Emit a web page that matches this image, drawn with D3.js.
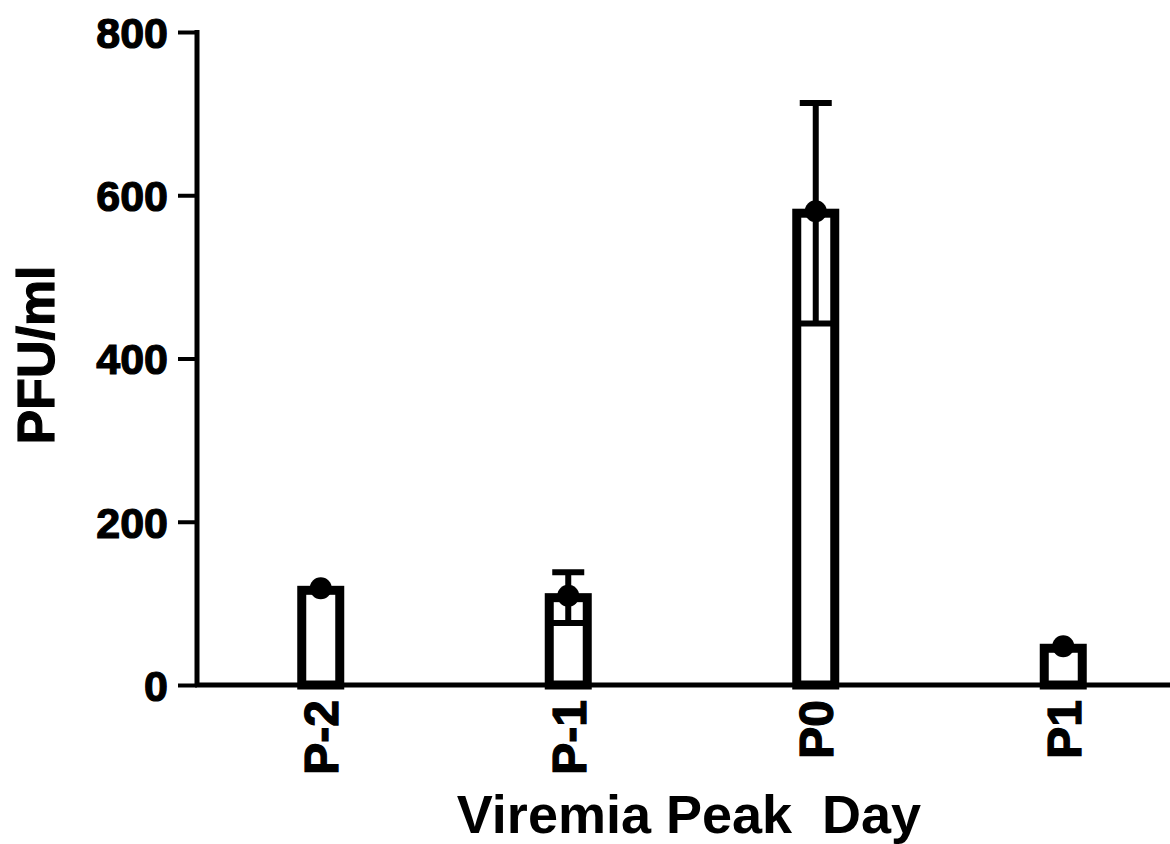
<!DOCTYPE html>
<script src="https://d3js.org/d3.v7.min.js"></script>
<style>
body { margin: 0; background: white; }
text { font-family: "Liberation Sans", Arial, sans-serif; font-weight: bold; fill: black; }
.heavy { stroke: black; stroke-width: 1.2px; }
</style>
<html><body>
<svg class="chart"></svg>
<script>
var width = 1170;
var height = 844;

var days = ["P-2", "P-1", "P0", "P1"];
var means = [116, 107, 578, 45];
var sems = [0, 31, 135, 0];
var yTicks = [0, 200, 400, 600, 800];

var x = d3.scaleBand()
    .domain(days)
    .range([197, 1187]);

var y = d3.scaleLinear()
    .domain([0, 800])
    .range([685, 32]);

var chart = d3.select(".chart")
    .attr("width", width)
    .attr("height", height);

var barW = 38;
function cx(d) { return x(d) + x.bandwidth() / 2; }
function hi(d) { var i = days.indexOf(d); return y(means[i] + sems[i]); }
function lo(d) { var i = days.indexOf(d); return y(means[i] - sems[i]); }

// error bars
var err = chart.append("g").selectAll("g")
    .data(days)
    .enter().append("g")
    .filter(function(d, i) { return sems[i] > 0; });

err.append("line")
    .attr("x1", cx).attr("x2", cx)
    .attr("y1", hi).attr("y2", lo)
    .attr("stroke", "black").attr("stroke-width", 6);

err.append("line")
    .attr("x1", function(d) { return cx(d) - 16; })
    .attr("x2", function(d) { return cx(d) + 16; })
    .attr("y1", hi).attr("y2", hi)
    .attr("stroke", "black").attr("stroke-width", 6);

err.append("line")
    .attr("x1", function(d) { return cx(d) - barW / 2; })
    .attr("x2", function(d) { return cx(d) + barW / 2; })
    .attr("y1", lo).attr("y2", lo)
    .attr("stroke", "black").attr("stroke-width", 6);

// bars
chart.append("g").selectAll("rect")
    .data(days)
    .enter().append("rect")
    .attr("x", function(d) { return cx(d) - barW / 2; })
    .attr("width", barW)
    .attr("y", function(d, i) { return y(means[i]); })
    .attr("height", function(d, i) { return y(0) - y(means[i]); })
    .attr("fill", "none")
    .attr("stroke", "black")
    .attr("stroke-width", 9);

// mean dots
chart.append("g").selectAll("circle")
    .data(days)
    .enter().append("circle")
    .attr("cx", cx)
    .attr("cy", function(d, i) { return y(means[i]) - 2; })
    .attr("r", 11)
    .attr("fill", "black");

// y axis
var yAxis = chart.append("g")
    .attr("transform", "translate(197,0)")
    .call(d3.axisLeft(y).tickValues(yTicks).tickSize(19).tickPadding(10));
yAxis.select(".domain").attr("stroke-width", 5).attr("d", "M0,30V687");
yAxis.selectAll(".tick line").attr("stroke-width", 4);
yAxis.selectAll(".tick text").attr("class", "heavy").style("font-size", "43px").attr("dy", "0.36em");

// x axis
var xAxis = chart.append("g")
    .attr("transform", "translate(0,685)")
    .call(d3.axisBottom(x).tickSize(0).tickPadding(0));
xAxis.select(".domain").attr("stroke-width", 5).attr("d", "M195,0H1170");
xAxis.selectAll(".tick text")
    .attr("class", "heavy")
    .style("font-size", "48px")
    .attr("text-anchor", "end")
    .attr("transform", "rotate(-90)")
    .attr("x", -15)
    .attr("y", 0)
    .attr("dy", "0.36em");

// axis titles
chart.append("text")
    .attr("class", "heavy")
    .attr("transform", "translate(54,355) rotate(-90)")
    .attr("text-anchor", "middle")
    .style("font-size", "52px")
    .text("PFU/ml");

chart.append("text")
    .attr("x", 689)
    .attr("y", 833)
    .attr("text-anchor", "middle")
    .style("font-size", "54px")
    .attr("xml:space", "preserve")
    .text("Viremia Peak  Day");
</script>
</body></html>
